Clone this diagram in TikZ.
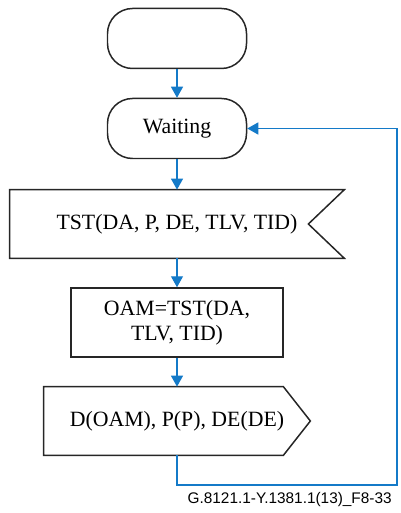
\documentclass[tikz,border=0pt]{standalone}
\usepackage{fontspec}
\setmainfont{Liberation Serif}
\newfontfamily\capfont{Liberation Sans}
\usepackage{xcolor}
\usepackage{tikz}
\usetikzlibrary{arrows.meta,positioning,calc}
\definecolor{flowblue}{RGB}{20,122,200}

\begin{document}
\begin{tikzpicture}[
    >={Triangle[length=0.22cm,width=0.24cm]},
    state/.style={rectangle,rounded corners=0.5cm,draw=black!85,line width=0.85pt,
                  minimum width=2.78cm,minimum height=1.2cm,inner sep=0pt},
    task/.style={rectangle,draw=black!85,line width=0.85pt,align=center,
                 minimum width=4.24cm,minimum height=1.38cm,inner sep=0pt},
    sigbox/.style={rectangle,minimum height=1.36cm,inner sep=0pt},
    outline/.style={draw=black!85,line width=0.85pt,line join=miter},
    flow/.style={->,line width=0.7pt,flowblue},
    font=\fontsize{12.4}{14.2}\selectfont,
]
\useasboundingbox (0,0) rectangle (8,-10.26);

% ---- states ----
\node[state] (start) at (3.54,-0.77) {};
\node[state] (waiting) at (3.54,-2.57) {Waiting};

% ---- input signal ----
\node[sigbox,minimum width=6.68cm] (tst) at (3.54,-4.48) {TST(DA, P, DE, TLV, TID)};
\draw[outline] (tst.north west) -- (tst.north east) -- ($(tst.east)+(-0.72,0)$)
  -- (tst.south east) -- (tst.south west) -- cycle;

% ---- task ----
\node[task] (oam) at (3.54,-6.45) {OAM=TST(DA,\\TLV, TID)};

% ---- output signal ----
\node[sigbox,minimum width=5.32cm] (out) at (3.54,-8.42) {D(OAM), P(P), DE(DE)};
\draw[outline] (out.north west) -- ($(out.north east)+(-0.54,0)$) -- (out.east)
  -- ($(out.south east)+(-0.54,0)$) -- (out.south west) -- cycle;

% ---- connectors ----
\draw[flow] (start) -- (waiting);
\draw[flow] (waiting) -- (tst);
\draw[flow] (tst) -- (oam);
\draw[flow] (oam) -- (out);

% loop back to waiting
\coordinate (back) at (7.94,-9.70);
\draw[flow] (out.south) |- (back) |- (waiting.east);

% ---- figure tag ----
\node[font=\capfont\fontsize{8.75}{10}\selectfont,anchor=base east,inner sep=0pt]
  (tag) at (7.84,-10.06) {G.8121.1-Y.1381.1(13)\_F8-33};

\end{tikzpicture}
\end{document}
